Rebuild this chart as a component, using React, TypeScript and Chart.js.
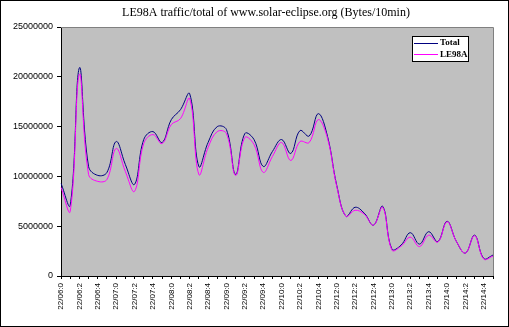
import React, { useEffect, useRef } from 'react';
import { Chart, registerables } from 'chart.js';

Chart.register(...registerables);

const TITLE = 'LE98A traffic/total of www.solar-eclipse.org (Bytes/10min)';

const categories = [
  '22/06:0', '22/06:1', '22/06:2', '22/06:3', '22/06:4', '22/06:5',
  '22/07:0', '22/07:1', '22/07:2', '22/07:3', '22/07:4', '22/07:5',
  '22/08:0', '22/08:1', '22/08:2', '22/08:3', '22/08:4', '22/08:5',
  '22/09:0', '22/09:1', '22/09:2', '22/09:3', '22/09:4', '22/09:5',
  '22/10:0', '22/10:1', '22/10:2', '22/10:3', '22/10:4', '22/10:5',
  '22/12:0', '22/12:1', '22/12:2', '22/12:3', '22/12:4', '22/12:5',
  '22/13:0', '22/13:1', '22/13:2', '22/13:3', '22/13:4', '22/13:5',
  '22/14:0', '22/14:1', '22/14:2', '22/14:3', '22/14:4', '22/14:5',
];

const totalValues = [
  9300000, 7100000, 20900000, 11000000, 10100000, 10400000,
  13500000, 11200000, 9200000, 13700000, 14500000, 13400000,
  15700000, 16700000, 18300000, 11000000, 13400000, 15000000,
  14700000, 10200000, 14300000, 13700000, 11000000, 12500000,
  13700000, 12300000, 14600000, 14050000, 16300000, 14000000,
  9100000, 6000000, 6900000, 6300000, 5100000, 7000000,
  2700000, 3100000, 4350000, 3200000, 4450000, 3450000,
  5500000, 3500000, 2300000, 4100000, 1750000, 2100000,
];

const le98aValues = [
  8900000, 6500000, 20250000, 10200000, 9500000, 9700000,
  12800000, 10500000, 8500000, 13300000, 14200000, 13300000,
  15200000, 15800000, 17800000, 10200000, 12900000, 14500000,
  14300000, 10100000, 13900000, 13200000, 10400000, 12000000,
  13400000, 11600000, 13500000, 13400000, 15700000, 13800000,
  9000000, 6000000, 6600000, 6200000, 5100000, 6900000,
  2600000, 3000000, 3900000, 2950000, 4100000, 3400000,
  5450000, 3500000, 2300000, 4050000, 1700000, 2000000,
];

const yMin = 0;
const yMax = 25000000;
const yStep = 5000000;

const seriesNames = ['Total', 'LE98A'];
const seriesColors = ['#000080', '#FF00FF'];

const W = 509;
const H = 327;

const decorPlugin = {
  id: 'decor',
  beforeDraw(chart: any) {
    const { ctx, chartArea: a } = chart;
    ctx.save();
    ctx.fillStyle = '#FFFFFF';
    ctx.fillRect(0, 0, chart.width, chart.height);
    ctx.fillStyle = '#C0C0C0';
    ctx.fillRect(a.left, a.top, a.right - a.left, a.bottom - a.top);
    ctx.restore();
  },
  afterDraw(chart: any) {
    const { ctx, chartArea: a } = chart;
    ctx.save();
    ctx.strokeStyle = '#808080';
    ctx.lineWidth = 1;
    ctx.beginPath();
    ctx.moveTo(a.left, Math.round(a.top) + 0.5);
    ctx.lineTo(Math.round(a.right) + 0.5, Math.round(a.top) + 0.5);
    ctx.lineTo(Math.round(a.right) + 0.5, a.bottom);
    ctx.stroke();
    ctx.strokeStyle = '#000000';
    ctx.strokeRect(0.5, 0.5, chart.width - 1, chart.height - 1);
    ctx.fillStyle = '#000000';
    ctx.font = '12px "Liberation Serif"';
    ctx.textAlign = 'center';
    ctx.textBaseline = 'middle';
    ctx.fillText(TITLE, 266, 13);
    const lx = 412, ly = 36, lw = 56, lh = 25;
    ctx.fillStyle = '#FFFFFF';
    ctx.fillRect(lx, ly, lw, lh);
    ctx.strokeStyle = '#000000';
    ctx.strokeRect(lx + 0.5, ly + 0.5, lw, lh);
    ctx.font = 'bold 9px "Liberation Serif"';
    ctx.textAlign = 'left';
    seriesNames.forEach((name, i) => {
      const yy = ly + 6.5 + i * 11.5;
      ctx.strokeStyle = seriesColors[i];
      ctx.beginPath();
      ctx.moveTo(lx + 2, Math.round(yy) + 0.5);
      ctx.lineTo(lx + 26, Math.round(yy) + 0.5);
      ctx.stroke();
      ctx.fillStyle = '#000000';
      ctx.fillText(name, lx + 28, yy + 0.5);
    });
    ctx.restore();
  },
};

export default function App() {
  const ref = useRef<HTMLCanvasElement>(null);
  useEffect(() => {
    document.body.style.margin = '0';
    const canvas = ref.current;
    if (!canvas) return;
    const chart = new Chart(canvas, {
      type: 'line',
      data: {
        labels: categories,
        datasets: [
          {
            label: seriesNames[0],
            data: totalValues,
            borderColor: seriesColors[0],
            backgroundColor: seriesColors[0],
            borderWidth: 1,
            pointRadius: 0,
            tension: 0.4,
            fill: false,
            order: 1,
          },
          {
            label: seriesNames[1],
            data: le98aValues,
            borderColor: seriesColors[1],
            backgroundColor: seriesColors[1],
            borderWidth: 1,
            pointRadius: 0,
            tension: 0.4,
            fill: false,
            order: 0,
          },
        ],
      },
      options: {
        responsive: false,
        animation: false,
        devicePixelRatio: 1,
        layout: { padding: { top: 27, right: 16, left: 0, bottom: 0 } },
        plugins: {
          legend: { display: false },
          title: { display: false },
          tooltip: { enabled: false },
        },
        scales: {
          x: {
            type: 'category',
            offset: false,
            afterFit(scale: any) {
              scale.height = 51;
            },
            grid: {
              drawOnChartArea: false,
              drawTicks: true,
              tickLength: 3,
              color: '#000000',
            },
            border: { color: '#000000', width: 1 },
            ticks: {
              autoSkip: false,
              minRotation: 90,
              maxRotation: 90,
              padding: 4,
              color: '#000000',
              font: { family: '"Liberation Sans Narrow", "Liberation Sans"', size: 8 },
              callback: (_v: any, i: number) => (i % 2 === 0 ? categories[i] : ''),
            },
          },
          y: {
            min: yMin,
            max: yMax,
            afterFit(scale: any) {
              scale.width = 61;
            },
            grid: {
              drawOnChartArea: false,
              drawTicks: true,
              tickLength: 4,
              color: '#000000',
            },
            border: { color: '#000000', width: 1 },
            ticks: {
              stepSize: yStep,
              padding: 4,
              color: '#000000',
              font: { family: '"Liberation Sans"', size: 9 },
              callback: (v: any) => String(v),
            },
          },
        },
      },
      plugins: [decorPlugin],
    });
    return () => chart.destroy();
  }, []);
  return (
    <div style={{ position: 'absolute', left: 0, top: 0, width: W, height: H }}>
      <canvas ref={ref} width={W} height={H} style={{ width: W, height: H, display: 'block' }} />
    </div>
  );
}
